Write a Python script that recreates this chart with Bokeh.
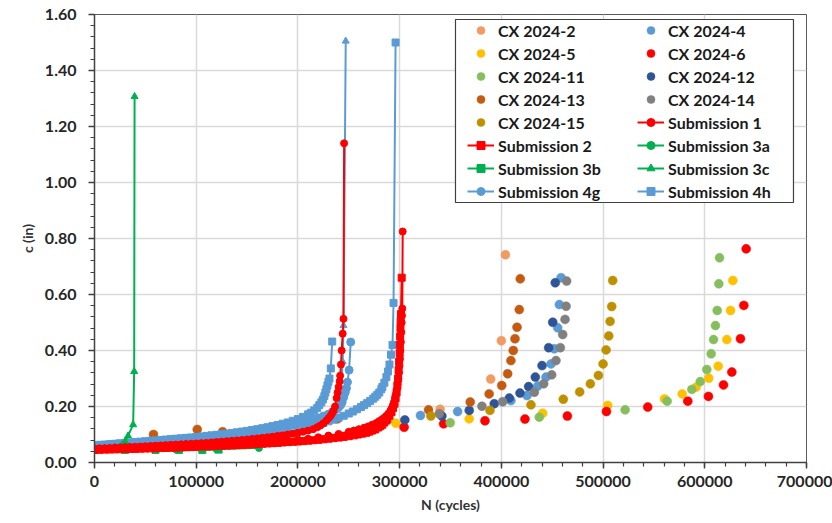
import math
from bokeh.plotting import figure
from bokeh.models import (Range1d, FixedTicker, PrintfTickFormatter, NumeralTickFormatter,
                          Legend, LegendItem, BoxAnnotation)
from bokeh.embed import file_html
from bokeh.resources import INLINE

NAN = float("nan")
FONT = "Lato"

# ---------------- CX test data (N cycles, c inches) ----------------
cx2_n = [339800, 389500, 400000, 404000]
cx2_c = [0.190, 0.298, 0.435, 0.742]

cx4_n = [320500, 357000, 409400, 425200, 435700, 443900, 448800, 452100, 455400, 457000, 458700]
cx4_c = [0.168, 0.182, 0.221, 0.239, 0.273, 0.305, 0.352, 0.406, 0.481, 0.564, 0.660]

cx5_n = [296300, 368400, 440600, 504600, 560400, 577800, 591500, 603900, 613200, 621700, 625300, 627600]
cx5_c = [0.140, 0.156, 0.176, 0.204, 0.227, 0.245, 0.269, 0.301, 0.344, 0.439, 0.543, 0.650]

cx6_n = [304400, 343200, 383900, 423200, 464900, 503300, 543900, 583300, 603600, 618400, 626600, 635100, 638400, 640700]
cx6_c = [0.126, 0.138, 0.149, 0.155, 0.166, 0.182, 0.198, 0.219, 0.236, 0.277, 0.323, 0.442, 0.561, 0.763]

cx11_n = [349700, 437300, 521700, 563000, 587300, 595500, 602000, 606300, 608600, 610500, 612200, 613800, 614500]
cx11_c = [0.142, 0.162, 0.188, 0.219, 0.261, 0.289, 0.332, 0.388, 0.439, 0.489, 0.543, 0.638, 0.731]

cx12_n = [305100, 341500, 368400, 393000, 407800, 418300, 426800, 433400, 440000, 446500, 450500, 453000]
cx12_c = [0.152, 0.166, 0.186, 0.210, 0.230, 0.248, 0.271, 0.305, 0.346, 0.410, 0.501, 0.642]

cx13_n = [58000, 101000, 126000, 222000, 239000, 328400, 369400, 388000, 400400, 406200, 409400, 411700, 413400, 415400, 417600, 418600]
cx13_c = [0.100, 0.118, 0.110, 0.145, 0.156, 0.188, 0.216, 0.245, 0.275, 0.317, 0.364, 0.400, 0.442, 0.483, 0.546, 0.656]

cx14_n = [338900, 380900, 401300, 432400, 441600, 449500, 453700, 458000, 460300, 462600, 463600, 464200]
cx14_c = [0.174, 0.201, 0.217, 0.251, 0.281, 0.313, 0.364, 0.410, 0.457, 0.511, 0.558, 0.648]

cx15_n = [330700, 388800, 429100, 460900, 477000, 487500, 495400, 500000, 503000, 505600, 506900, 508500, 509500]
cx15_c = [0.166, 0.186, 0.206, 0.226, 0.252, 0.281, 0.311, 0.352, 0.402, 0.452, 0.504, 0.557, 0.650]

# ---------------- Submissions (N, c inches) ----------------
s1a_n = [0, 5000, 10000, 15000, 20000, 25000, 30000, 35000, 40000, 45000, 50000, 55000, 60000,
         65000, 70000, 75000, 80000, 85000, 90000, 95000, 100000, 105000, 110000, 115000, 120000,
         125000, 130000, 135000, 140000, 145000, 150000, 155000, 160000, 165000, 170000, 175000,
         180000, 185000, 190000, 195000, 200000, 205000, 210000, 215000,
         219000, 222000, 225000, 228000, 230000, 232000, 233500, 235000, 236500, 238000, 239000,
         240000, 241000, 241500, 242300, 243000, 244000, 244800, 245400]
s1a_c = [0.050, 0.0505, 0.051, 0.052, 0.053, 0.054, 0.055, 0.0555, 0.056, 0.057, 0.058, 0.059, 0.060,
         0.061, 0.062, 0.063, 0.064, 0.065, 0.066, 0.067, 0.068, 0.069, 0.070, 0.0715, 0.073,
         0.0745, 0.076, 0.0775, 0.079, 0.0805, 0.082, 0.084, 0.086, 0.088, 0.090, 0.0925,
         0.095, 0.0975, 0.100, 0.103, 0.106, 0.110, 0.114, 0.119,
         0.126, 0.132, 0.140, 0.150, 0.158, 0.166, 0.175, 0.185, 0.200, 0.230, 0.250,
         0.270, 0.290, 0.310, 0.350, 0.400, 0.460, 0.513, 1.140]

s1b_n = [0, 10000, 20000, 30000, 40000, 50000, 60000, 70000, 80000, 90000, 100000, 110000, 120000,
         130000, 140000, 150000, 160000, 170000, 180000, 190000, 200000, 210000, 220000, 230000,
         240000, 250000, 255000, 260000, 265000, 269000, 273000, 277000, 280000, 283000, 285000,
         287000, 289000, 291000, 292000, 293500, 294500, 295500, 296500, 297300, 298000, 298700,
         299300, 299800, 300300, 300700, 301200, 301600, 302000, 302300, 302600, 303000]
s1b_c = [0.048, 0.049, 0.050, 0.051, 0.052, 0.053, 0.054, 0.0555, 0.057, 0.0585, 0.060, 0.0615, 0.063,
         0.065, 0.067, 0.069, 0.071, 0.0735, 0.076, 0.079, 0.082, 0.085, 0.090, 0.096,
         0.102, 0.110, 0.114, 0.119, 0.124, 0.129, 0.135, 0.141, 0.148, 0.155, 0.160,
         0.167, 0.175, 0.185, 0.193, 0.205, 0.215, 0.230, 0.245, 0.262, 0.280, 0.300,
         0.320, 0.345, 0.370, 0.400, 0.430, 0.465, 0.500, 0.525, 0.550, 0.825]

s2_n = [0, 5000, 10000, 15000, 20000, 25000, 30000, 35000, 40000, 45000, 50000, 55000, 60000,
        65000, 70000, 75000, 80000, 85000, 90000, 95000, 100000, 105000, 110000, 115000, 120000,
        125000, 130000, 135000, 140000, 145000, 150000, 155000, 160000, 165000, 170000, 175000,
        180000, 185000, 190000, 195000, 200000, 205000, 210000, 215000, 220000, 225000, 230000,
        235000, 240000, 245000, 250000,
        255000, 259000, 263000, 267000, 270000, 273000, 276000, 279000, 281000, 283000, 285000,
        287000, 288000, 290000, 292000, 293500, 295000, 296000, 297000, 297800, 298500, 299000,
        299500, 300000, 300200, 300500, 300800, 301000, 301300, 302000]
s2_c = [0.045, 0.0455, 0.046, 0.0465, 0.047, 0.0475, 0.048, 0.0485, 0.049, 0.0495, 0.050, 0.0505, 0.051,
        0.0515, 0.052, 0.0525, 0.053, 0.054, 0.0545, 0.055, 0.056, 0.057, 0.0575, 0.058, 0.059,
        0.060, 0.0605, 0.061, 0.062, 0.063, 0.064, 0.065, 0.066, 0.067, 0.068, 0.069,
        0.070, 0.0715, 0.073, 0.074, 0.075, 0.0765, 0.078, 0.0795, 0.081, 0.083, 0.085,
        0.087, 0.089, 0.0915, 0.094,
        0.097, 0.100, 0.103, 0.106, 0.110, 0.114, 0.118, 0.125, 0.130, 0.135, 0.143,
        0.150, 0.155, 0.167, 0.180, 0.195, 0.210, 0.230, 0.250, 0.275, 0.300, 0.330,
        0.360, 0.390, 0.420, 0.450, 0.480, 0.505, 0.530, 0.660]

s3a_n = [0, 40000, 80000, 120000, 161700]
s3a_c = [0.050, 0.048, 0.047, 0.048, 0.052]

s3b_n = [0, 30000, 60000, 83000, 106000, 122000]
s3b_c = [0.046, 0.045, 0.045, 0.045, 0.045, 0.046]

s3c_n = [0, 10000, 20000, 27000, 30000, 33000, 38000, 39000, 39400]
s3c_c = [0.050, 0.051, 0.055, 0.062, 0.075, 0.095, 0.135, 0.325, 1.307]

s4g_n = [0, 5000, 10000, 15000, 20000, 25000, 30000, 35000, 40000, 45000, 50000, 55000, 60000,
         65000, 70000, 75000, 80000, 85000, 90000, 95000, 100000, 105000, 110000, 115000, 120000,
         125000, 130000, 135000, 140000, 145000, 150000, 155000, 160000, 165000, 170000, 175000,
         180000, 185000, 190000, 195000, 200000, 205000, 210000, 215000, 220000, 225000, 230000,
         234000, 238000, 240000, 242000, 243500, 245000, 246500, 247700, 248700, 250300, 251900]
s4g_c = [0.060, 0.061, 0.062, 0.0635, 0.065, 0.066, 0.067, 0.0685, 0.070, 0.071, 0.072, 0.0735, 0.075,
         0.0765, 0.078, 0.0795, 0.081, 0.0825, 0.084, 0.0855, 0.087, 0.0885, 0.090, 0.092, 0.094,
         0.096, 0.098, 0.100, 0.102, 0.1045, 0.107, 0.1095, 0.112, 0.115, 0.118, 0.121,
         0.124, 0.1275, 0.131, 0.135, 0.139, 0.1435, 0.148, 0.1535, 0.159, 0.166, 0.173,
         0.181, 0.190, 0.197, 0.205, 0.215, 0.233, 0.250, 0.265, 0.287, 0.330, 0.430]

s4t_n = [0, 20000, 40000, 60000, 80000, 100000, 120000, 140000, 160000, 180000, 200000, 212000,
         222000, 230000, 236000, 240000, 242500, 244000, 244800, 247000]
s4t_c = [0.055, 0.058, 0.061, 0.065, 0.069, 0.073, 0.078, 0.084, 0.091, 0.100, 0.111, 0.121,
         0.134, 0.150, 0.170, 0.200, 0.260, 0.360, 0.489, 1.505]

s4ha_n = [0, 5000, 10000, 15000, 20000, 25000, 30000, 35000, 40000, 45000, 50000, 55000, 60000,
          65000, 70000, 75000, 80000, 85000, 90000, 95000, 100000, 105000, 110000, 115000, 120000,
          125000, 130000, 135000, 140000, 145000, 150000, 155000, 160000, 165000, 170000, 175000,
          180000, 185000, 190000, 195000, 200000,
          205000, 210000, 213000, 216000, 219000, 221000, 223000, 224500, 226000, 227000, 228000,
          229000, 230000, 231000, 232300, 233700]
s4ha_c = [0.062, 0.063, 0.064, 0.0655, 0.067, 0.0685, 0.070, 0.0715, 0.073, 0.0745, 0.076, 0.0775, 0.079,
          0.0805, 0.082, 0.0835, 0.085, 0.0865, 0.088, 0.0895, 0.091, 0.093, 0.095, 0.097, 0.099,
          0.101, 0.103, 0.1055, 0.108, 0.1105, 0.113, 0.116, 0.119, 0.1225, 0.126, 0.130,
          0.134, 0.1385, 0.143, 0.149, 0.155,
          0.163, 0.172, 0.178, 0.186, 0.195, 0.205, 0.215, 0.225, 0.237, 0.250, 0.262,
          0.275, 0.288, 0.300, 0.336, 0.432]

s4hb_n = [0, 10000, 20000, 30000, 40000, 50000, 60000, 70000, 80000, 90000, 100000, 110000, 120000,
          130000, 140000, 150000, 160000, 170000, 180000, 190000, 200000,
          205000, 210000, 215000, 220000, 225000, 230000, 235000, 240000, 245000, 250000, 254000,
          258000, 262000, 265000, 268000, 271000, 274000, 276000, 278000, 280000, 282000, 283000,
          285000, 287000, 288500, 290000, 291500, 293000, 294000, 296000]
s4hb_c = [0.058, 0.0595, 0.061, 0.063, 0.065, 0.067, 0.069, 0.071, 0.073, 0.0755, 0.078, 0.0805, 0.083,
          0.086, 0.089, 0.0925, 0.096, 0.100, 0.104, 0.110, 0.118,
          0.122, 0.126, 0.131, 0.136, 0.141, 0.147, 0.153, 0.160, 0.167, 0.175, 0.182,
          0.190, 0.198, 0.205, 0.212, 0.220, 0.228, 0.235, 0.242, 0.250, 0.262, 0.270,
          0.285, 0.305, 0.325, 0.350, 0.385, 0.420, 0.570, 1.500]

x_ticks = [0, 100000, 200000, 300000, 400000, 500000, 600000, 700000]
y_ticks = [0.0, 0.2, 0.4, 0.6, 0.8, 1.0, 1.2, 1.4, 1.6]


def join(*parts):
    out = []
    for i, part in enumerate(parts):
        if i:
            out.append(NAN)
        out.extend(part)
    return out


RED = "#FF0000"
GREEN = "#00B050"
BLUE = "#5B9BD5"

p = figure(width=832, height=523, output_backend="svg", toolbar_location=None,
           x_range=Range1d(0, 700000), y_range=Range1d(0, 1.6),
           min_border_left=94, min_border_right=26, min_border_top=14, min_border_bottom=61)
p.background_fill_color = "white"
p.border_fill_color = "white"
p.outline_line_color = "#595959"
p.outline_line_width = 1

# ticks / axes
p.xaxis.ticker = FixedTicker(ticks=x_ticks, minor_ticks=[i * 20000 for i in range(36)])
p.yaxis.ticker = FixedTicker(ticks=y_ticks, minor_ticks=[round(i * 0.04, 2) for i in range(41)])
p.xaxis.formatter = PrintfTickFormatter(format="%d")
p.yaxis.formatter = NumeralTickFormatter(format="0.00")
for ax in (p.xaxis[0], p.yaxis[0]):
    ax.major_label_text_font = FONT
    ax.major_label_text_font_style = "bold"
    ax.major_label_text_font_size = "16px"
    ax.major_label_text_color = "#262626"
    ax.axis_label_text_font = FONT
    ax.axis_label_text_font_style = "bold"
    ax.axis_label_text_font_size = "14px"
    ax.axis_label_text_color = "#333333"
    ax.axis_line_color = "#404040"
    ax.axis_line_width = 1.5
    ax.major_tick_line_color = "#404040"
    ax.major_tick_line_width = 1.5
    ax.minor_tick_line_color = "#404040"
    ax.minor_tick_line_width = 1.2
    ax.major_tick_in = 0
    ax.major_tick_out = 6
    ax.minor_tick_in = 0
    ax.minor_tick_out = 4
p.xaxis.axis_label = "N (cycles)"
p.yaxis.axis_label = "c (in)"
p.xaxis.major_label_standoff = 7
p.yaxis.major_label_standoff = 12
p.xaxis.axis_label_standoff = 6
p.yaxis.axis_label_standoff = 6
p.xgrid.grid_line_color = "#D9D9D9"
p.ygrid.grid_line_color = "#D9D9D9"
p.xgrid.grid_line_width = 1.5
p.ygrid.grid_line_width = 1.5

# ---- CX scatter ----
cx_specs = [
    ("CX 2024-2", cx2_n, cx2_c, "#F19B63"),
    ("CX 2024-4", cx4_n, cx4_c, "#5B9BD5"),
    ("CX 2024-5", cx5_n, cx5_c, "#FFC000"),
    ("CX 2024-6", cx6_n, cx6_c, "#FF0000"),
    ("CX 2024-11", cx11_n, cx11_c, "#86BE5E"),
    ("CX 2024-12", cx12_n, cx12_c, "#2F5597"),
    ("CX 2024-13", cx13_n, cx13_c, "#C55A11"),
    ("CX 2024-14", cx14_n, cx14_c, "#808080"),
    ("CX 2024-15", cx15_n, cx15_c, "#BF9000"),
]
cx_r = {}
for name, xs, ys, col in cx_specs:
    cx_r[name] = p.scatter(xs, ys, marker="circle", size=9, fill_color=col, line_color=col,
                           line_width=0.5)


def series(xs, ys, color, marker, size=7, lw=2):
    lr = p.line(xs, ys, line_color=color, line_width=lw)
    sr = p.scatter(xs, ys, marker=marker, size=size, fill_color=color, line_color=color)
    return [lr, sr]


r4h = series(join(s4ha_n, s4hb_n), join(s4ha_c, s4hb_c), BLUE, "square", 7)
r4g = series(s4g_n, s4g_c, BLUE, "circle", 8)
series(s4t_n, s4t_c, BLUE, "triangle", 7)
r3a = series(s3a_n, s3a_c, GREEN, "circle", 7)
r3b = series(s3b_n, s3b_c, GREEN, "square", 7)
r3c = series(s3c_n, s3c_c, GREEN, "triangle", 7)
r2 = series(s2_n, s2_c, RED, "square", 7)
r1 = series(join(s1a_n, s1b_n), join(s1a_c, s1b_c), RED, "circle", 7)

# ---- legend box + two legend columns ----
box = BoxAnnotation(left=354900, right=687200, bottom=0.9286, top=1.5821,
                    fill_color="white", fill_alpha=1.0, line_color="#404040", line_width=1.2,
                    line_alpha=1.0)
p.add_layout(box)

col1 = [("CX 2024-2", [cx_r["CX 2024-2"]]), ("CX 2024-5", [cx_r["CX 2024-5"]]),
        ("CX 2024-11", [cx_r["CX 2024-11"]]), ("CX 2024-13", [cx_r["CX 2024-13"]]),
        ("CX 2024-15", [cx_r["CX 2024-15"]]), ("Submission 2", r2),
        ("Submission 3b", r3b), ("Submission 4g", r4g)]
col2 = [("CX 2024-4", [cx_r["CX 2024-4"]]), ("CX 2024-6", [cx_r["CX 2024-6"]]),
        ("CX 2024-12", [cx_r["CX 2024-12"]]), ("CX 2024-14", [cx_r["CX 2024-14"]]),
        ("Submission 1", r1), ("Submission 3a", r3a),
        ("Submission 3c", r3c), ("Submission 4h", r4h)]

for items, xloc in ((col1, 373), (col2, 543)):
    lg = Legend(items=[LegendItem(label=l, renderers=r) for l, r in items],
                location=(xloc, 261), orientation="vertical",
                padding=0, margin=0, spacing=3, label_height=20, glyph_height=20,
                glyph_width=27, label_standoff=4,
                label_text_font=FONT, label_text_font_style="bold",
                label_text_font_size="16px", label_text_color="#1A1A1A",
                border_line_alpha=0, background_fill_alpha=0)
    p.add_layout(lg)

open("out.html", "w").write(file_html(p, INLINE))
